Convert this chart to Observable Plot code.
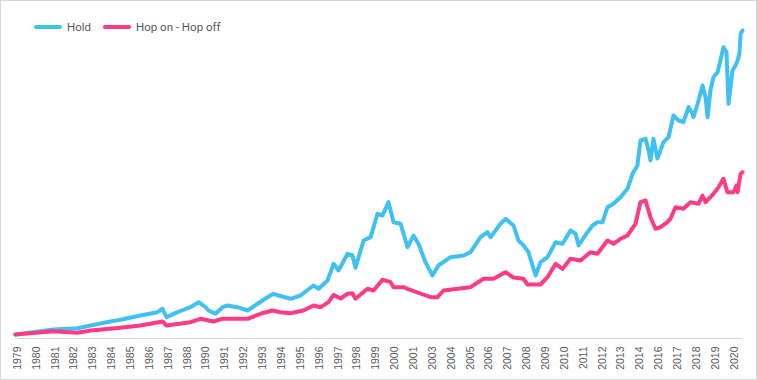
<!DOCTYPE html>
<html>
<head>
<meta charset="utf-8">
<script src="https://cdn.jsdelivr.net/npm/d3@7"></script>
<script src="https://cdn.jsdelivr.net/npm/@observablehq/plot@0.6"></script>
<style>
  body { margin: 0; background: #fff; }
  #wrap { position: relative; width: 757px; height: 380px; overflow: hidden; background: #fff; }
  #wrap svg { position: absolute; left: 0; top: 0; }
  #border { position: absolute; left: 0; top: 0; width: 757px; height: 380px; box-sizing: border-box; border: 1px solid #d9d9d9; pointer-events: none; }
  .item { position: absolute; top: 19px; height: 15px; display: flex; align-items: center; white-space: nowrap;
          font-family: Roboto, "Noto Sans", sans-serif; font-size: 11.5px; color: #595959; }
  .sw { display: inline-block; width: 28px; height: 4px; border-radius: 2px; margin-right: 5px; }
</style>
</head>
<body>
<div id="wrap">
  <div class="item" style="left:34px"><span class="sw" style="background:#41c1f1"></span>Hold</div>
  <div class="item" style="left:103px"><span class="sw" style="background:#fd3c85"></span>Hop on - Hop off</div>
  <div id="border"></div>
</div>
<script>
// Category-axis tick labels (one every N periods, as in the source chart)
const tickLabels = ["1979","1980","1981","1982","1983","1984","1985","1986","1987","1988",
  "1990","1991","1992","1993","1994","1995","1996","1997","1998","1999",
  "2000","2001","2003","2004","2005","2006","2007","2008","2009","2010",
  "2011","2012","2013","2014","2016","2017","2018","2019","2020"];

// Hold: position on the category axis (in label steps) and growth of $1
const holdPos = [-0.11,1.91,3.18,3.87,4.93,5.46,6.52,7.42,7.69,7.90,8.48,9.17,9.60,9.97,10.13,10.50,10.87,11.13,11.66,12.20,
  12.73,13.26,13.57,13.84,14.48,15.01,15.69,15.96,16.44,16.76,
  17.02,17.50,17.76,17.92,18.35,18.72,19.09,19.35,19.67,19.94,20.31,20.68,21.00,21.26,21.63,22.00,22.32,
  22.96,23.65,24.02,24.55,24.92,25.08,25.61,25.87,26.30,26.56,26.83,27.09,27.47,27.73,28.10,28.53,28.90,29.32,29.59,29.75,
  30.22,30.49,30.75,31.02,31.28,31.60,31.97,32.34,32.61,32.87,33.03,33.30,33.46,33.56,33.72,33.93,34.25,34.52,34.78,35.05,
  35.31,35.58,35.79,35.84,36.06,36.32,36.48,36.59,36.74,36.90,37.12,37.27,37.43,37.59,37.70,37.91,38.07,38.18,38.28,38.34,38.44];
const holdValue = [1.0,2.25,2.58,3.25,4.25,4.68,5.75,6.58,7.43,5.33,6.58,7.83,9.08,7.83,7.0,6.18,7.83,8.25,7.83,7.0,
  8.68,10.33,11.18,10.75,9.93,10.75,13.25,12.43,14.5,18.68,
  17.0,21.18,20.75,17.68,24.5,25.33,31.18,30.75,34.08,29.08,28.68,22.83,25.75,23.68,19.08,15.75,18.25,
  20.33,20.75,21.58,25.33,26.58,25.33,28.68,29.93,28.25,24.5,23.25,21.58,15.75,19.08,20.33,24.08,23.68,27.0,26.18,23.25,
  26.58,28.25,29.08,29.08,32.83,33.68,35.33,37.43,41.18,43.25,49.5,49.93,47.0,44.5,49.93,45.0,49.08,50.33,55.75,54.5,
  54.08,57.83,56.18,55.33,58.68,63.25,60.33,55.33,62.0,65.33,66.58,69.5,72.83,71.58,58.68,67.0,68.25,69.5,71.25,76.18,77.0];

// Hop on - Hop off
const hopPos = [-0.11,1.91,3.18,3.87,5.46,6.52,7.69,7.90,9.17,9.70,10.39,10.87,12.20,12.88,13.52,13.94,14.48,15.16,15.69,16.07,
  16.49,16.76,17.13,17.50,
  17.76,17.92,18.56,18.88,19.35,19.78,19.94,20.47,20.68,21.21,21.90,22.27,22.59,23.33,24.02,24.71,25.24,25.87,26.30,26.83,
  27.04,27.73,28.10,28.53,28.90,29.32,29.85,30.38,30.75,31.28,31.60,31.97,32.34,32.77,33.03,33.30,33.56,33.83,34.09,34.46,
  34.62,34.89,35.31,35.68,36.11,36.32,36.48,36.90,37.17,37.43,37.64,37.96,38.12,38.18,38.34,38.44];
const hopValue = [1.0,1.83,1.43,2.0,2.68,3.25,4.25,3.25,4.08,4.93,4.25,4.93,4.93,6.18,7.0,6.58,6.33,7.0,8.25,7.83,
  9.08,10.9,10.0,11.18,
  11.33,9.93,12.43,12.0,14.68,14.08,12.83,12.83,12.43,11.5,10.33,10.33,12.0,12.43,12.83,14.93,14.93,16.58,15.25,14.93,
  13.5,13.5,15.33,18.68,17.43,19.93,19.5,21.58,21.18,24.5,23.68,24.93,25.75,28.68,34.08,34.5,30.33,27.43,27.83,29.08,
  29.93,32.83,32.43,34.08,33.68,35.75,34.08,36.18,37.83,39.93,36.58,36.58,38.25,36.58,41.18,41.58];

const holdData = holdPos.map((p, i) => ({pos: p, value: holdValue[i]}));
const hopData = hopPos.map((p, i) => ({pos: p, value: hopValue[i]}));

const chart = Plot.plot({
  width: 757,
  height: 380,
  marginLeft: 17,
  marginRight: 23.3,
  marginTop: 30,
  marginBottom: 42,
  style: {background: "transparent", fontFamily: "'Liberation Sans', Arial, sans-serif", fontSize: "10.5px", color: "#595959"},
  x: {domain: [0, tickLabels.length - 1], ticks: d3.range(tickLabels.length), tickFormat: i => tickLabels[i],
      tickRotate: -90, tickSize: 0, tickPadding: 8, label: null},
  y: {domain: [0, 77], axis: null},
  marks: [
    Plot.ruleY([0], {x1: d3.min(holdPos), x2: d3.max(holdPos), stroke: "#d9d9d9", strokeWidth: 1}),
    Plot.line(holdData, {x: "pos", y: "value", stroke: "#41c1f1", strokeWidth: 4, strokeLinejoin: "round", strokeLinecap: "round"}),
    Plot.line(hopData, {x: "pos", y: "value", stroke: "#fd3c85", strokeWidth: 4, strokeLinejoin: "round", strokeLinecap: "round"})
  ]
});
document.getElementById("wrap").insertBefore(chart, document.getElementById("wrap").firstChild);
</script>
</body>
</html>
